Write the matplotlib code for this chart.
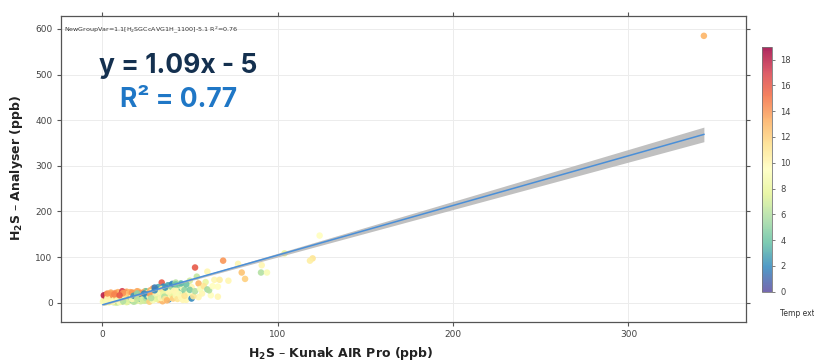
import numpy as np
import matplotlib
matplotlib.use("Agg")
import matplotlib.pyplot as plt

# Paired measurements: Kunak AIR Pro (x), analyser (y), external temperature (colour)
kunak = [0.5, 1, 1.5, 2, 2, 1, 2.5, 3, 3, 3.5, 4, 4, 4.5, 5, 5, 5.5, 6, 6, 6.5, 7, 7, 7.5,
         8, 8, 8.5, 9, 9, 9.5, 10, 10, 10.5, 11, 11, 11.5, 12, 12, 12.5, 13, 13, 13.5,
         14, 14, 14.5, 15, 15, 15.5, 16, 16, 16.5, 17, 17, 17.5, 18, 18, 18.5, 19, 19,
         19.5, 20, 20, 20.5, 21, 21, 21.5, 22, 22, 22.5, 23, 23, 23.5, 24, 24, 24.5, 25,
         25, 25.5, 26, 26, 26.5, 27, 27, 27.5, 28, 28, 28.5, 29, 29, 29.5, 30, 30, 30.5,
         31, 31, 31.5, 32, 32, 32.5, 33, 33, 33.5, 34, 34, 34.5, 35, 35, 35.5, 36, 36,
         36.5, 37, 37, 37.5, 38, 38, 38.5, 39, 39, 39.5, 40, 40, 40.5, 41, 41, 42, 42,
         42.5, 43, 43, 44, 44, 45, 45, 46, 46, 47, 47, 48, 48, 49, 50, 50, 51, 51, 52,
         53, 53, 54, 55, 55, 56, 57, 58, 59, 60, 60, 61, 62, 63, 64, 66, 66, 67, 69, 72,
         77.5, 79.6, 81.5, 90.6, 91, 94, 104, 118.5, 120, 124, 343,
         2, 4, 6, 8, 10, 12, 14, 16, 18, 20, 3, 7, 11, 15, 19, 23, 27, 5, 9, 13, 17, 21,
         3, 5, 7, 9, 12, 14, 17, 20, 22, 24, 27, 6, 10, 15, 19,
         15, 18, 21, 24, 27, 30, 33, 36, 39, 42, 45, 30, 25, 20,
         8, 12, 16, 20, 25, 28, 32]
analyser = [2, 5, 8, 3, 12, 16, 18, 14, 6, 10, 2, 15, 7, 12, 19, 4, 9, 16, 1, 6, 14, 21,
            3, 11, 17, 8, 1, 14, 5, 20, 11, 2, 16, 25, 8, 13, 4, 18, 10, 22,
            6, 14, 2, 19, 11, 7, 15, 23, 4, 12, 18, 9, 22, 6, 14, 3, 17,
            10, 20, 13, 6, 16, 24, 9, 3, 14, 19, 7, 12, 22, 16, 4, 25, 10,
            18, 14, 6, 21, 12, 2, 17, 27, 9, 23, 14, 5, 31, 19, 11, 25, 16,
            8, 28, 21, 13, 34, 6, 24, 17, 10, 44, 30, 3, 20, 35, 13, 26, 8,
            32, 5, 18, 38, 7, 24, 14, 30, 11, 35, 18, 41, 9, 26, 33, 44, 15,
            22, 30, 8, 38, 19, 24, 12, 32, 6, 28, 15, 6, 40, 20, 28, 48, 9, 34, 14,
            77, 25, 57, 42, 12, 30, 20, 36, 45, 29, 68, 27, 16, 36, 50, 13, 35, 50, 92, 48,
            85, 66, 52, 66, 82, 66, 108, 92, 97, 147, 585,
            0, 1, 2, 0, 1, 3, 1, 4, 2, 5, 9, 11, 7, 9, 8, 10, 14, 3, 5, 6, 8, 9,
            20, 22, 18, 23, 21, 24, 22, 25, 21, 23, 20, 13, 16, 17, 14,
            12, 15, 17, 20, 24, 27, 30, 33, 38, 40, 42, 33, 25, 20,
            4, 3, 6, 8, 5, 10, 12]
temperature = [9, 10, 11, 8, 13, 18, 17, 15, 9, 12, 7, 14, 10, 13, 15, 8, 11, 14, 6, 9, 13, 14,
               7, 12, 14, 10, 5, 13, 8, 13, 11, 6, 12, 17, 9, 12, 7, 13, 10, 14,
               8, 11, 5, 12, 10, 4, 12, 13, 6, 10, 11, 3, 12, 6, 9, 7, 11,
               4, 12, 8, 6, 10, 12, 3, 7, 2, 11, 8, 5, 13, 9, 7, 12, 6,
               10, 3, 8, 11, 9, 12, 5, 13, 7, 10, 4, 9, 14, 10, 6, 11, 3,
               8, 12, 10, 5, 3, 12, 9, 7, 10, 16, 11, 13, 8, 2, 6, 10, 11,
               4, 13, 9, 3, 2, 10, 7, 9, 10, 5, 8, 2, 12, 10, 6, 6, 9,
               10, 10, 11, 5, 9, 4, 10, 9, 10, 5, 11, 10, 4, 9, 4.5, 7, 2, 10, 11,
               16, 6, 6.5, 13, 10, 9, 10, 11, 8, 5.5, 10, 6, 9.5, 9.5, 10, 10, 9.5, 10.5, 14, 10,
               10, 12.5, 12, 6, 10, 9, 8, 10.5, 11, 9.5, 13,
               9, 8, 10, 7, 9, 11, 8, 10, 6, 9, 10, 11, 9, 8, 7, 9, 10, 11, 9, 8, 10, 7,
               14, 13.5, 14.5, 13, 14, 13, 14, 13.5, 14, 13, 14, 15, 16, 14, 15,
               3, 2.5, 3.5, 2, 3, 2, 3.5, 2.5, 3, 4, 3.5, 1.5, 4, 5,
               5.5, 6, 5, 6.5, 5.5, 6, 5]

# Fitted relationship and its confidence band
slope, intercept = 1.09, -5
band_centre, band_min, band_end = 25, 1.5, 16

x_ticks = [0, 100, 200, 300]
y_ticks = [0, 100, 200, 300, 400, 500, 600]
cbar_ticks = [0, 2, 4, 6, 8, 10, 12, 14, 16, 18]

fig = plt.figure(figsize=(8.14, 3.63), dpi=100)
ax = fig.add_axes([61 / 814, 41 / 363, 685 / 814, 306 / 363])

xs = np.array(kunak, float)
ys = np.array(analyser, float)
ts = np.array(temperature, float)
# interleave the record order so no temperature band hides the others
order = np.concatenate([np.arange(0, len(xs), 2), np.arange(1, len(xs), 2)])

sc = ax.scatter(xs[order], ys[order], c=ts[order], cmap="Spectral_r", vmin=0, vmax=19,
                s=22, alpha=0.9, linewidths=0, zorder=3)

xl = np.linspace(xs.min(), xs.max(), 200)
yl = slope * xl + intercept
k = np.sqrt(band_end ** 2 - band_min ** 2) / (xs.max() - band_centre)
hw = np.sqrt(band_min ** 2 + (k * (xl - band_centre)) ** 2)
ax.fill_between(xl, yl - hw, yl + hw, color="#b5b5b5", alpha=0.85, linewidth=0, zorder=4)
ax.plot(xl, yl, color="#4a8fd8", lw=1.1, zorder=5)

ax.set_xlim(-23.4, 367)
ax.set_ylim(-42.5, 628.5)
ax.set_xticks(x_ticks)
ax.set_yticks(y_ticks)
ax.grid(True, color="#ececec", lw=0.7, zorder=0)
ax.set_axisbelow(True)
for s in ax.spines.values():
    s.set_color("#555555")
    s.set_linewidth(0.9)
ax.tick_params(axis="both", direction="out", length=3, width=0.8, color="#555555",
               labelsize=6.5, labelcolor="#444444", top=True, right=True, pad=3)
ax.tick_params(axis="x", pad=3)

ax.text(0.004, 0.955, "NewGroupVar=1.1[H$_2$SGCcAVG1H_1100]-5.1 R$^2$=0.76",
        transform=ax.transAxes, fontsize=4.6, color="#333333", va="center")
fig.text(99 / 814, 1 - 66 / 363, "y = 1.09x - 5", fontsize=19, fontweight="bold",
         family="Inter", color="#14304f", va="center", ha="left")
fig.text(120 / 814, 1 - 100 / 363, "R² = 0.77", fontsize=19, fontweight="bold",
         family="Inter", color="#1f77c6", va="center", ha="left")

fig.text(17 / 814, 1 - 168 / 363, "H$_\\mathbf{2}$S – Analyser (ppb)", rotation=90,
         fontsize=9, fontweight="bold", color="#222222", ha="center", va="center")
fig.text(341 / 814, 1 - 354 / 363, "H$_\\mathbf{2}$S – Kunak AIR Pro (ppb)",
         fontsize=9, fontweight="bold", color="#222222", ha="center", va="center")

cax = fig.add_axes([762 / 814, 1 - 291.7 / 363, 10 / 814, 245 / 363])
cb = fig.colorbar(sc, cax=cax, ticks=cbar_ticks)
cb.solids.set_alpha(0.85)
cb.outline.set_edgecolor("#777777")
cb.outline.set_linewidth(0.6)
cax.tick_params(labelsize=6, labelcolor="#444444", length=2.5, width=0.6, color="#666666")
fig.text(797 / 814, 1 - 313 / 363, "Temp ext", fontsize=5.5, color="#333333",
         ha="center", va="center")

fig.savefig("out.png", dpi=100)
